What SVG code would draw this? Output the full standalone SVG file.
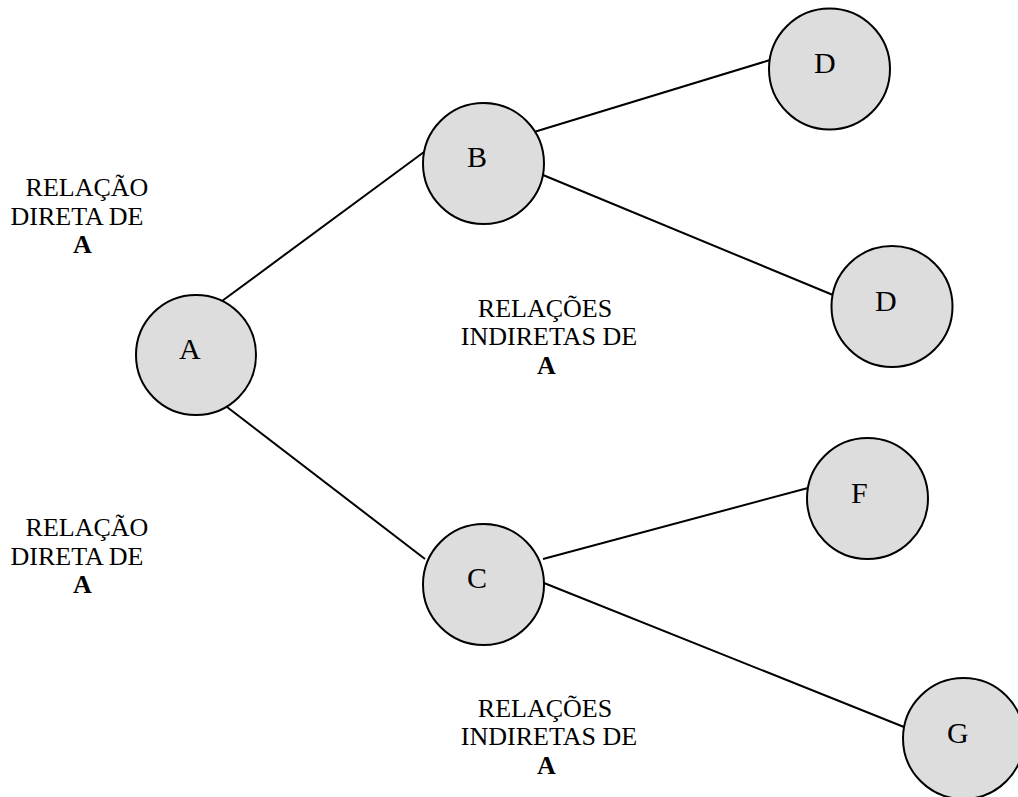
<svg xmlns="http://www.w3.org/2000/svg" width="1018" height="797" viewBox="0 0 1018 797">
  <style>
    .node circle { fill: #dddddd; stroke: #000000; stroke-width: 2; }
    .node text { font-family: "Liberation Serif", "Times New Roman", serif; font-size: 30px; fill: #000000; }
    .edges line { stroke: #000000; stroke-width: 2; }
    .note { font-family: "Liberation Serif", "Times New Roman", serif; font-size: 26px; fill: #000000; text-anchor: middle; }
    .note .b { font-weight: bold; }
  </style>
  <rect width="1018" height="797" fill="#ffffff"/>

  <!-- connectors -->
  <g id="edges" class="edges">
    <line x1="222" y1="301" x2="424" y2="152"/>
    <line x1="227" y1="407" x2="425" y2="559"/>
    <line x1="534" y1="132" x2="770" y2="60"/>
    <line x1="543" y1="175" x2="833" y2="295"/>
    <line x1="543" y1="559" x2="808" y2="488"/>
    <line x1="544" y1="583" x2="904" y2="727"/>
  </g>

  <!-- nodes -->
  <g id="node-A" class="node">
    <circle cx="196" cy="355" r="60"/>
    <text x="179" y="359">A</text>
  </g>
  <g id="node-B" class="node">
    <circle cx="483.5" cy="163.5" r="60.5"/>
    <text x="467" y="167">B</text>
  </g>
  <g id="node-D1" class="node">
    <circle cx="829.5" cy="69" r="60.5"/>
    <text x="814" y="73">D</text>
  </g>
  <g id="node-D2" class="node">
    <circle cx="892" cy="306.5" r="60.5"/>
    <text x="875" y="311">D</text>
  </g>
  <g id="node-C" class="node">
    <circle cx="483.5" cy="584.5" r="60.5"/>
    <text x="467" y="588">C</text>
  </g>
  <g id="node-F" class="node">
    <circle cx="867.5" cy="498.5" r="60.5"/>
    <text x="851" y="503">F</text>
  </g>
  <g id="node-G" class="node">
    <circle cx="963.5" cy="738.5" r="60.5"/>
    <text x="947" y="743">G</text>
  </g>

  <!-- relation notes -->
  <g id="note-direct-top" class="note">
    <text x="87" y="196">RELAÇÃO</text>
    <text x="77" y="225">DIRETA DE</text>
    <text x="82.5" y="253" class="b">A</text>
  </g>
  <g id="note-direct-bottom" class="note">
    <text x="87" y="536">RELAÇÃO</text>
    <text x="77" y="565">DIRETA DE</text>
    <text x="82.5" y="593" class="b">A</text>
  </g>
  <g id="note-indirect-top" class="note">
    <text x="545" y="317">RELAÇÕES</text>
    <text x="549" y="345">INDIRETAS DE</text>
    <text x="546.5" y="374" class="b">A</text>
  </g>
  <g id="note-indirect-bottom" class="note">
    <text x="545" y="717">RELAÇÕES</text>
    <text x="549" y="745">INDIRETAS DE</text>
    <text x="546.5" y="774" class="b">A</text>
  </g>
</svg>
